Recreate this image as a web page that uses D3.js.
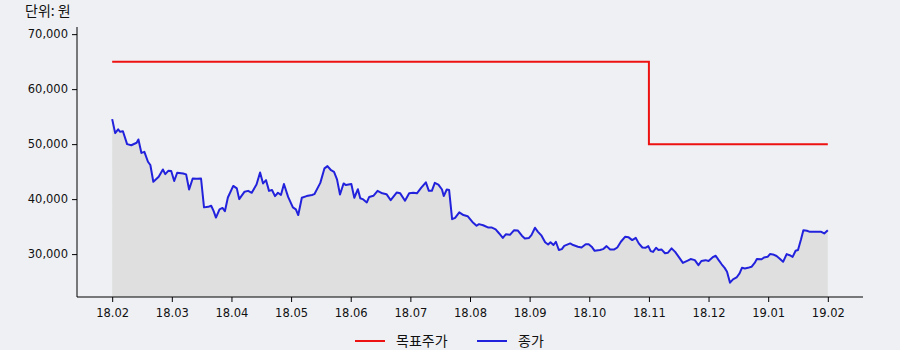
<!DOCTYPE html>
<html>
<head>
<meta charset="utf-8">
<script src="https://cdn.jsdelivr.net/npm/d3@7"></script>
<style>
  html, body { margin: 0; padding: 0; background: #eff0f4; }
  svg { display: block; font-family: "Noto Sans CJK KR", "Noto Sans", sans-serif; }
</style>
</head>
<body>
<svg id="chart" width="900" height="350"></svg>
<script>
// Month labels along the bottom (one per month, evenly spaced)
const monthLabels = ["18.02", "18.03", "18.04", "18.05", "18.06", "18.07", "18.08",
  "18.09", "18.10", "18.11", "18.12", "19.01", "19.02"];

const yTicks = [30000, 40000, 50000, 60000, 70000];

// Target price steps: [months since 18.02, price]
const targetSteps = [[0, 65000], [9, 50000], [12, 50000]];

// Closing price: [months since 18.02, price]
const closeSeries = [
  [0.00, 54550], [0.05, 52000], [0.10, 52700], [0.13, 52250], [0.18, 52350], [0.25, 50000],
  [0.32, 49800], [0.41, 50250], [0.44, 50850], [0.49, 48400], [0.54, 48600], [0.60, 46800],
  [0.64, 46200], [0.69, 43150], [0.78, 44050], [0.85, 45400], [0.89, 44550], [0.94, 45150],
  [0.99, 45100], [1.04, 43300], [1.09, 44800], [1.19, 44650], [1.24, 44500], [1.29, 41750],
  [1.35, 43750], [1.42, 43700], [1.49, 43750], [1.54, 38500], [1.61, 38600], [1.66, 38800],
  [1.70, 37850], [1.74, 36650], [1.80, 38150], [1.85, 38400], [1.89, 37800], [1.94, 40300],
  [2.03, 42400], [2.09, 41950], [2.13, 40000], [2.22, 41350], [2.28, 41500], [2.34, 41150],
  [2.42, 42650], [2.48, 44850], [2.53, 42850], [2.58, 43450], [2.63, 41500], [2.68, 41650],
  [2.73, 40550], [2.78, 41150], [2.83, 40750], [2.88, 42750], [2.95, 40400], [3.03, 38500],
  [3.08, 38150], [3.12, 37100], [3.18, 40250], [3.26, 40550], [3.35, 40750], [3.39, 40900],
  [3.49, 42950], [3.56, 45600], [3.61, 46000], [3.67, 45250], [3.72, 44950], [3.77, 43600],
  [3.82, 40850], [3.88, 42850], [3.92, 42550], [4.01, 42750], [4.06, 40250], [4.12, 41800],
  [4.16, 40150], [4.21, 39950], [4.27, 39400], [4.31, 40400], [4.38, 40600], [4.45, 41500],
  [4.53, 41050], [4.60, 40900], [4.67, 39800], [4.77, 41200], [4.83, 41050], [4.91, 39700],
  [4.98, 41050], [5.05, 41150], [5.11, 41050], [5.18, 42050], [5.26, 43050], [5.31, 41500],
  [5.36, 41500], [5.41, 42950], [5.47, 42650], [5.53, 41750], [5.56, 40550], [5.61, 41750],
  [5.65, 41650], [5.70, 36350], [5.75, 36600], [5.82, 37600], [5.89, 37100], [5.96, 36900],
  [6.04, 35850], [6.11, 35150], [6.15, 35450], [6.22, 35250], [6.30, 34850], [6.36, 34850],
  [6.43, 34500], [6.49, 33750], [6.55, 32950], [6.60, 33600], [6.67, 33500], [6.74, 34350],
  [6.80, 34300], [6.87, 33350], [6.92, 32850], [6.99, 32950], [7.03, 33450], [7.09, 34800],
  [7.14, 34050], [7.20, 33350], [7.26, 32150], [7.31, 31750], [7.35, 32150], [7.40, 31650],
  [7.44, 32250], [7.49, 30750], [7.54, 30900], [7.58, 31500], [7.68, 31950], [7.73, 31650],
  [7.81, 31350], [7.87, 31200], [7.94, 31800], [7.99, 31800], [8.04, 31350], [8.09, 30600],
  [8.18, 30750], [8.23, 30900], [8.29, 31450], [8.35, 30850], [8.42, 30850], [8.47, 31200],
  [8.53, 32250], [8.60, 33150], [8.66, 33050], [8.72, 32550], [8.78, 32950], [8.83, 31950],
  [8.89, 31200], [8.94, 31150], [8.99, 31450], [9.03, 30550], [9.07, 30400], [9.12, 31150],
  [9.16, 30750], [9.21, 30850], [9.27, 30150], [9.32, 30250], [9.38, 31050], [9.44, 30400],
  [9.50, 29500], [9.57, 28400], [9.65, 28800], [9.70, 29100], [9.77, 28900], [9.83, 28000],
  [9.88, 28750], [9.95, 28900], [10.00, 28750], [10.08, 29500], [10.12, 29700], [10.17, 28900],
  [10.22, 28150], [10.27, 27500], [10.31, 26800], [10.36, 24800], [10.41, 25400], [10.47, 25750],
  [10.52, 26500], [10.56, 27500], [10.61, 27400], [10.66, 27500], [10.72, 27700], [10.78, 28500],
  [10.81, 29100], [10.89, 29050], [10.93, 29400], [10.99, 29500], [11.03, 30000], [11.08, 29950],
  [11.14, 29650], [11.19, 29200], [11.25, 28600], [11.31, 30000], [11.36, 29800], [11.41, 29500],
  [11.46, 30600], [11.50, 30750], [11.55, 32650], [11.59, 34350], [11.65, 34250], [11.70, 34050],
  [11.75, 34050], [11.84, 34050], [11.89, 34050], [11.94, 33750], [12.00, 34350]
];

const margin = { top: 27, right: 37, bottom: 53, left: 77 };
const width = 900, height = 350;

const svg = d3.select("#chart");

const x = d3.scaleLinear()
  .domain([-0.59, 12.59])
  .range([margin.left, width - margin.right]);

const y = d3.scaleLinear()
  .domain([22200, 71300])
  .range([height - margin.bottom, margin.top]);

// grey area under the close line
const area = d3.area()
  .x(d => x(d[0]))
  .y0(y.range()[0])
  .y1(d => y(d[1]));

svg.append("path")
  .datum(closeSeries)
  .attr("fill", "#dfdfdf")
  .attr("d", area);

const closeLine = d3.line()
  .x(d => x(d[0]))
  .y(d => y(d[1]));

const targetLine = d3.line()
  .x(d => x(d[0]))
  .y(d => y(d[1]))
  .curve(d3.curveStepAfter);

svg.append("path")
  .datum(targetSteps)
  .attr("fill", "none")
  .attr("stroke", "#ee1111")
  .attr("stroke-width", 2)
  .attr("d", targetLine);

svg.append("path")
  .datum(closeSeries)
  .attr("fill", "none")
  .attr("stroke", "#2222dd")
  .attr("stroke-width", 2)
  .attr("stroke-linejoin", "round")
  .attr("d", closeLine);

// axes
const xAxis = d3.axisBottom(x)
  .tickValues(d3.range(monthLabels.length))
  .tickFormat(i => monthLabels[i])
  .tickSize(5)
  .tickPadding(7);

const gx = svg.append("g")
  .attr("transform", `translate(0,${height - margin.bottom})`)
  .call(xAxis);
gx.select(".domain").attr("stroke", "#000").attr("d", `M${margin.left},0H${width - margin.right}`);

const yAxis = d3.axisLeft(y)
  .tickValues(yTicks)
  .tickFormat(d3.format(","))
  .tickSize(5)
  .tickPadding(4);

const gy = svg.append("g")
  .attr("transform", `translate(${margin.left},0)`)
  .call(yAxis);
gy.select(".domain").attr("stroke", "#000")
  .attr("d", `M0,${margin.top}V${height - margin.bottom}`);

svg.selectAll(".tick text")
  .style("font-family", "'DejaVu Sans', sans-serif")
  .style("font-size", "11.5px")
  .attr("fill", "#111");

// unit label
svg.append("text")
  .attr("x", 25)
  .attr("y", 16)
  .attr("font-size", 14)
  .attr("fill", "#111")
  .text("단위: 원");

// legend
const legendItems = [
  { label: "목표주가", color: "#ee1111", x: 355 },
  { label: "종가", color: "#2222dd", x: 477 }
];
const lg = svg.append("g").attr("transform", "translate(0,341)");
legendItems.forEach(item => {
  lg.append("line")
    .attr("x1", item.x).attr("x2", item.x + 30)
    .attr("y1", 0).attr("y2", 0)
    .attr("stroke", item.color)
    .attr("stroke-width", 2);
  lg.append("text")
    .attr("x", item.x + 41)
    .attr("y", 5)
    .attr("font-size", 14)
    .attr("fill", "#111")
    .text(item.label);
});
</script>
</body>
</html>
